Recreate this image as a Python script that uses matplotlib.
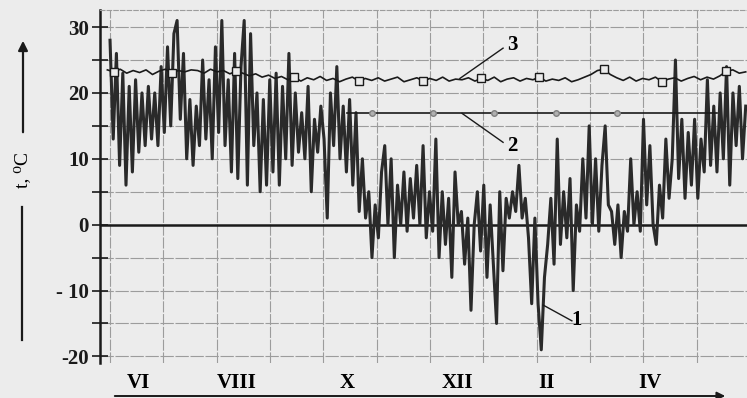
import numpy as np
import matplotlib.pyplot as plt

# Kurve 1: Aussentemperatur (ca. alle 1.75 Tage), Juni .. Mai
t1 = [28, 13, 26, 9, 23, 6, 21, 8, 22, 11,
      20, 12, 21, 13, 20, 12, 24, 14, 27, 15,
      29, 31, 16, 26, 10, 19, 9, 18, 12, 25,
      13, 22, 10, 27, 14, 31, 12, 22, 8, 26,
      7, 24, 31, 6, 29, 12, 20, 5, 19, 6,
      22, 8, 23, 6, 21, 10, 26, 9, 20, 11,
      17, 10, 21, 5, 16, 11, 18, 13, 1, 20,
      12, 24, 10, 18, 8, 19, 6, 17, 2, 10,
      1, 5, -5, 3, -2, 8, 12, 0, 10, -5,
      6, 0, 8, -1, 7, 1, 9, 0, 12, -2,
      5, -1, 13, -5, 5, -3, 4, -8, 8, 0,
      2, -6, 1, -13, 0, 5, -4, 6, -8, 3,
      -6, -15, 5, -7, 4, 1, 5, 2, 9, 1,
      4, -2, -12, 1, -12, -19, -8, -3, 4, -6,
      13, -3, 5, -2, 7, -10, 3, -1, 10, 1,
      15, 0, 10, -1, 9, 15, 3, 2, -3, 3,
      -5, 2, -1, 10, 0, 5, -1, 16, 3, 12,
      0, -3, 6, 1, 13, 4, 10, 25, 7, 16,
      4, 14, 6, 16, 4, 13, 8, 22, 9, 18,
      8, 20, 10, 24, 6, 20, 12, 21, 10, 18]

# Kurve 3: Raumtemperatur
t3 = [23.5, 23.2, 23.6, 23.0, 23.4, 23.1, 23.5, 22.8, 23.3, 23.6,
      23.0, 23.4, 23.2, 23.5, 23.4, 23.0, 23.6, 23.2, 23.4, 22.9,
      23.3, 23.0, 22.6, 22.9, 22.4, 22.7, 22.2, 22.5, 22.0, 22.4,
      21.8, 22.3, 22.0, 22.5, 21.9, 22.2, 21.7, 22.1, 22.4, 21.8,
      22.2, 21.9, 22.3, 21.8, 22.1, 22.4, 21.7, 22.0, 22.3, 21.8,
      22.2, 21.9, 22.4, 21.8, 22.1, 22.0, 22.3, 21.8, 22.2, 21.9,
      22.4, 21.7, 22.1, 22.3, 21.8, 22.2, 22.0, 22.4, 21.8, 22.1,
      21.9, 22.3, 21.7, 22.0, 22.4, 22.8, 23.4, 23.6, 22.8, 22.3,
      21.9, 22.4, 21.8, 22.2, 22.0, 22.4, 21.7, 22.1, 22.3, 21.8,
      22.2, 22.5, 22.0, 22.4, 22.1, 22.6, 23.3, 23.5, 23.0, 23.2]
t3_marks = [1, 10, 20, 29, 39, 49, 58, 67, 77, 86, 96]

# Kurve 2: konstant, Monate
t2_x = [4.45, 11.39]
t2_y = [17, 17]
t2_circ_x = [4.92, 6.06, 7.2, 8.37, 9.51]
t2_circ_y = [17, 17, 17, 17, 17]

month_pos = [0.53, 2.38, 4.44, 6.51, 8.19, 10.12]
month_lab = ['VI', 'VIII', 'X', 'XII', 'II', 'IV']
y_major = [30, 20, 10, 0, -10, -20]
y_lab = ['30', '20', '10', '0', '- 10', '-20']
y_minor = [25, 15, 5, -5, -15]

bg = '#ececec'
serif = ['Liberation Serif', 'DejaVu Serif']

fig = plt.figure(figsize=(7.47, 3.98), dpi=100, facecolor=bg)
ax = fig.add_axes([0.1339, 0.088, 0.8661, 0.887])
ax.set_facecolor(bg)

x1 = np.linspace(0, 11.92, len(t1))
x3 = np.linspace(-0.05, 11.92, len(t3))

# Gitter
for m in range(0, 12):
    ax.axvline(m, color='#9c9c9c', lw=0.8, ls=(0, (10, 1.5)), zorder=1)
for v in y_major + y_minor:
    if v != 0:
        ax.axhline(v, color='#9c9c9c', lw=0.8, ls=(0, (12, 1.5)), zorder=1)
ax.axhline(0, color='#1a1a1a', lw=1.8, zorder=2)

ax.plot(x1, t1, color='#2a2a2a', lw=2.2, zorder=3)
ax.plot(x3, t3, color='#1a1a1a', lw=1.2, marker='s', markevery=t3_marks,
        markersize=5.5, markerfacecolor=bg, markeredgecolor='#1a1a1a',
        markeredgewidth=1.0, zorder=4)
ax.plot(t2_x, t2_y, color='#1a1a1a', lw=1.2, zorder=4)
ax.plot(t2_circ_x, t2_circ_y, ls='none', marker='o', markersize=4,
        markerfacecolor='#b0b0b0', markeredgecolor='#808080', zorder=5)

# Beschriftung der Kurven
ax.plot([6.56, 7.37], [22.2, 26.8], color='#1a1a1a', lw=1.0, zorder=5)
ax.text(7.45, 27.3, '3', fontsize=15, fontweight='bold', family=serif,
        va='center', ha='left')
ax.plot([6.6, 7.37], [16.9, 12.5], color='#1a1a1a', lw=1.0, zorder=5)
ax.text(7.45, 11.9, '2', fontsize=15, fontweight='bold', family=serif,
        va='center', ha='left')
ax.plot([8.12, 8.66], [-12.2, -14.6], color='#1a1a1a', lw=1.0, zorder=5)
ax.text(8.66, -14.5, '1', fontsize=15, fontweight='bold', family=serif,
        va='center', ha='left')

ax.set_xlim(-0.1875, 11.944)
ax.set_ylim(-21, 32.6)

ax.set_yticks(y_major)
ax.set_yticklabels(y_lab, fontsize=15, fontweight='bold', family=serif)
ax.set_yticks(y_minor, minor=True)
ax.tick_params(axis='y', which='both', direction='inout', length=12,
               width=1.2, pad=2, colors='#1a1a1a')
ax.set_xticks(month_pos)
ax.set_xticklabels(month_lab, fontsize=15, fontweight='bold', family=serif)
ax.tick_params(axis='x', length=0, pad=7)

for s in ['right', 'bottom']:
    ax.spines[s].set_visible(False)
ax.spines['left'].set_linewidth(1.8)
ax.spines['left'].set_color('#1a1a1a')
ax.spines['top'].set_color('#9c9c9c')
ax.spines['top'].set_linestyle((0, (4, 2)))

# y-Achsentitel mit Pfeil
fig.text(23 / 747, 1 - 170 / 398, 't, \u2070C', rotation=90, fontsize=14,
         family=serif, ha='center', va='center')
fig.add_artist(plt.Line2D([22 / 747, 22 / 747], [1 - 340 / 398, 1 - 207 / 398],
                          color='#1a1a1a', lw=1.6))
fig.patches.append(plt.matplotlib.patches.FancyArrowPatch(
    (23 / 747, 1 - 135 / 398), (23 / 747, 1 - 38 / 398),
    transform=fig.transFigure, arrowstyle='-|>', mutation_scale=14,
    color='#1a1a1a', lw=1.6))
# x-Achsenpfeil
fig.patches.append(plt.matplotlib.patches.FancyArrowPatch(
    (112 / 747, 1 - 396 / 398), (728 / 747, 1 - 396 / 398),
    transform=fig.transFigure, arrowstyle='-|>', mutation_scale=12,
    color='#1a1a1a', lw=1.4))

plt.savefig('out.png', dpi=100, facecolor=bg)
